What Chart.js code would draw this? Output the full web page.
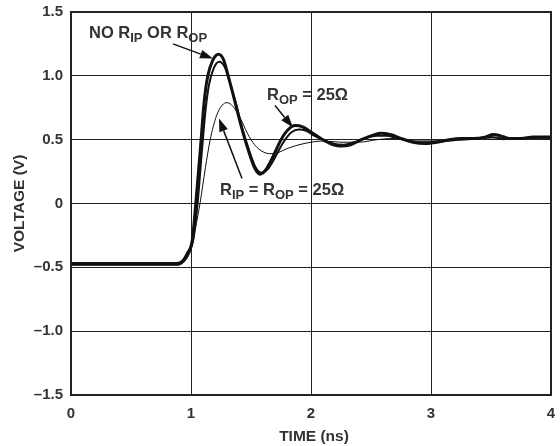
<!DOCTYPE html>
<html>
<head>
<meta charset="utf-8">
<script src="https://cdn.jsdelivr.net/npm/chart.js@4/dist/chart.umd.min.js"></script>
<style>
  html, body { margin: 0; padding: 0; background: #fff; }
  canvas { display: block; }
</style>
</head>
<body>
<canvas id="grafico" width="560" height="446"></canvas>
<script>
  // curva sem resistores (traço grosso)
  const tempoSemR = [0, 0.88, 0.93, 0.97, 1.01, 1.04, 1.08, 1.11, 1.14, 1.18, 1.23, 1.27, 1.31, 1.36, 1.42, 1.48, 1.53, 1.575, 1.62, 1.68, 1.75, 1.81, 1.87, 1.93, 2.0, 2.08, 2.16, 2.25, 2.33, 2.42, 2.5, 2.58, 2.66, 2.75, 2.85, 2.95, 3.05, 3.15, 3.25, 3.35, 3.45, 3.52, 3.58, 3.65, 3.75, 3.85, 4.0];
  const tensaoSemR = [-0.47, -0.47, -0.45, -0.39, -0.29, 0.0, 0.45, 0.8, 1.0, 1.12, 1.17, 1.13, 1.0, 0.82, 0.6, 0.41, 0.28, 0.23, 0.26, 0.36, 0.5, 0.58, 0.61, 0.6, 0.56, 0.51, 0.47, 0.45, 0.46, 0.5, 0.53, 0.55, 0.54, 0.51, 0.48, 0.47, 0.48, 0.5, 0.51, 0.51, 0.52, 0.54, 0.53, 0.51, 0.51, 0.52, 0.52];

  // ROP = 25 ohm (traço médio)
  const tempoROP = [0, 0.89, 0.94, 0.98, 1.02, 1.055, 1.09, 1.12, 1.15, 1.19, 1.235, 1.28, 1.32, 1.37, 1.43, 1.49, 1.54, 1.59, 1.64, 1.7, 1.77, 1.84, 1.9, 1.96, 2.03, 2.1, 2.18, 2.27, 2.36, 2.45, 2.55, 2.63, 2.72, 2.82, 2.92, 3.02, 3.12, 3.25, 3.4, 3.5, 3.6, 3.75, 3.9, 4.0];
  const tensaoROP = [-0.48, -0.48, -0.45, -0.39, -0.28, 0.0, 0.4, 0.72, 0.93, 1.06, 1.11, 1.07, 0.96, 0.8, 0.58, 0.4, 0.28, 0.24, 0.27, 0.36, 0.48, 0.56, 0.58, 0.57, 0.53, 0.5, 0.47, 0.46, 0.48, 0.51, 0.53, 0.53, 0.51, 0.49, 0.48, 0.48, 0.49, 0.5, 0.51, 0.52, 0.51, 0.51, 0.52, 0.52];

  // RIP = ROP = 25 ohm (traço fino)
  const tempoRIPROP = [0, 0.9, 0.95, 1.0, 1.04, 1.075, 1.12, 1.16, 1.21, 1.26, 1.3, 1.35, 1.41, 1.47, 1.53, 1.59, 1.66, 1.73, 1.8, 1.9, 2.0, 2.1, 2.25, 2.4, 2.55, 2.7, 2.85, 3.0, 3.2, 3.4, 3.6, 3.8, 4.0];
  const tensaoRIPROP = [-0.48, -0.48, -0.45, -0.36, -0.18, 0.0, 0.28, 0.5, 0.68, 0.77, 0.79, 0.76, 0.67, 0.55, 0.46, 0.41, 0.39, 0.4, 0.43, 0.46, 0.48, 0.49, 0.48, 0.48, 0.5, 0.51, 0.49, 0.49, 0.5, 0.51, 0.5, 0.51, 0.51];

  const ticksTempo = [0, 1, 2, 3, 4];
  const ticksTensao = [-1.5, -1.0, -0.5, 0, 0.5, 1.0, 1.5];

  const COR_TEXTO = "#333";
  const COR_LINHA = "#111";
  const FONTE = "'Liberation Sans', Arial, Helvetica, sans-serif";

  // rótulos: partes [texto, subscrito?], âncora em unidades de dados
  const rotulos = [
    { t: 0.15, v: 1.3, partes: [["NO R", false], ["IP", true], [" OR R", false], ["OP", true]] },
    { t: 1.633, v: 0.807, partes: [["R", false], ["OP", true], [" = 25\u03A9", false]] },
    { t: 1.242, v: 0.07, partes: [["R", false], ["IP", true], [" = R", false], ["OP", true], [" = 25\u03A9", false]] },
  ];
  const setas = [
    { de: [0.85, 1.25], para: [1.183, 1.135] },
    { de: [1.7, 0.767], para: [1.85, 0.595] },
    { de: [1.425, 0.196], para: [1.233, 0.666] },
  ];

  function pares(xs, ys) {
    return xs.map((x, i) => ({ x: x, y: ys[i] }));
  }

  function rotuloTensao(v) {
    if (Math.abs(v) < 1e-9) return "0";
    return (v < 0 ? "\u2013" : "") + Math.abs(v).toFixed(1);
  }

  const anotacoes = {
    id: "anotacoes",
    afterDraw(chart) {
      const ctx = chart.ctx;
      const a = chart.chartArea;
      const sx = chart.scales.x;
      const sy = chart.scales.y;
      ctx.save();

      // moldura
      ctx.strokeStyle = "#222";
      ctx.lineWidth = 2;
      ctx.strokeRect(a.left, a.top, a.right - a.left, a.bottom - a.top);

      // títulos dos eixos
      ctx.fillStyle = COR_TEXTO;
      ctx.font = "bold 15.5px " + FONTE;
      ctx.textAlign = "center";
      ctx.textBaseline = "middle";
      ctx.fillText("TIME (ns)", (a.left + a.right) / 2 + 3, a.bottom + 42);
      ctx.save();
      ctx.translate(20, (a.top + a.bottom) / 2);
      ctx.rotate(-Math.PI / 2);
      ctx.fillText("VOLTAGE (V)", 0, 0);
      ctx.restore();

      // textos com subscrito
      ctx.textAlign = "left";
      ctx.textBaseline = "alphabetic";
      rotulos.forEach((r) => {
        let x = sx.getPixelForValue(r.t);
        const y = sy.getPixelForValue(r.v);
        r.partes.forEach(([txt, sub]) => {
          ctx.font = sub ? "bold 13px " + FONTE : "bold 16.5px " + FONTE;
          ctx.fillText(txt, x, sub ? y + 4 : y);
          x += ctx.measureText(txt).width;
        });
      });

      // setas
      ctx.strokeStyle = COR_LINHA;
      ctx.fillStyle = COR_LINHA;
      ctx.lineWidth = 1.5;
      setas.forEach((s) => {
        const x0 = sx.getPixelForValue(s.de[0]);
        const y0 = sy.getPixelForValue(s.de[1]);
        const x1 = sx.getPixelForValue(s.para[0]);
        const y1 = sy.getPixelForValue(s.para[1]);
        const ang = Math.atan2(y1 - y0, x1 - x0);
        const comp = 13;
        const larg = 4.5;
        const bx = x1 - comp * Math.cos(ang);
        const by = y1 - comp * Math.sin(ang);
        ctx.beginPath();
        ctx.moveTo(x0, y0);
        ctx.lineTo(bx, by);
        ctx.stroke();
        ctx.beginPath();
        ctx.moveTo(x1, y1);
        ctx.lineTo(bx + larg * Math.sin(ang), by - larg * Math.cos(ang));
        ctx.lineTo(bx - larg * Math.sin(ang), by + larg * Math.cos(ang));
        ctx.closePath();
        ctx.fill();
      });
      ctx.restore();
    },
  };

  const grade = { color: "#222", lineWidth: 1, drawTicks: false };

  new Chart(document.getElementById("grafico").getContext("2d"), {
    type: "line",
    data: {
      datasets: [
        {
          label: "RIP = ROP = 25\u03A9",
          data: pares(tempoRIPROP, tensaoRIPROP),
          borderColor: COR_LINHA,
          borderWidth: 1,
        },
        {
          label: "ROP = 25\u03A9",
          data: pares(tempoROP, tensaoROP),
          borderColor: COR_LINHA,
          borderWidth: 2,
        },
        {
          label: "NO RIP OR ROP",
          data: pares(tempoSemR, tensaoSemR),
          borderColor: COR_LINHA,
          borderWidth: 3,
        },
      ],
    },
    options: {
      responsive: false,
      animation: false,
      devicePixelRatio: 1,
      parsing: false,
      layout: { autoPadding: false, padding: { top: 12, right: 9, left: 0, bottom: 0 } },
      elements: { point: { radius: 0, hoverRadius: 0 }, line: { cubicInterpolationMode: "monotone", fill: false } },
      plugins: { legend: { display: false }, tooltip: { enabled: false } },
      scales: {
        x: {
          type: "linear",
          min: 0,
          max: 4,
          afterBuildTicks: (s) => { s.ticks = ticksTempo.map((v) => ({ value: v })); },
          afterFit: (s) => { s.height = 51; s.paddingLeft = 0; s.paddingRight = 0; },
          grid: grade,
          border: { display: false },
          ticks: {
            padding: 10,
            maxRotation: 0,
            color: COR_TEXTO,
            font: { family: FONTE, size: 15, weight: "bold" },
            callback: (v) => String(v),
          },
        },
        y: {
          type: "linear",
          min: -1.5,
          max: 1.5,
          afterBuildTicks: (s) => { s.ticks = ticksTensao.map((v) => ({ value: v })); },
          afterFit: (s) => { s.width = 71; s.paddingTop = 0; s.paddingBottom = 0; },
          grid: grade,
          border: { display: false },
          ticks: {
            padding: 8,
            color: COR_TEXTO,
            font: { family: FONTE, size: 15, weight: "bold" },
            callback: (v) => rotuloTensao(v),
          },
        },
      },
    },
    plugins: [anotacoes],
  });
</script>
</body>
</html>
